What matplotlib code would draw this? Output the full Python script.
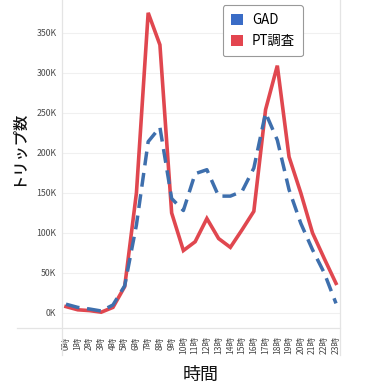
import matplotlib
matplotlib.use("Agg")
import matplotlib.pyplot as plt
from matplotlib.patches import Patch
from matplotlib.lines import Line2D
from matplotlib.ticker import FuncFormatter

plt.rcParams['font.family'] = ['Noto Sans CJK JP', 'DejaVu Sans']

hours = list(range(24))
hour_labels = [f"{h}時" for h in hours]
gad = [11000, 7000, 5000, 2500, 10000, 34000, 110000, 214000, 232000, 143000,
       128000, 174000, 179000, 146000, 146000, 152000, 181000, 250000, 216000,
       154000, 112000, 79000, 50000, 12000]
pt = [8000, 4000, 3000, 1000, 7000, 33000, 150000, 375000, 335000, 125000,
      78000, 89000, 118000, 93000, 82000, 104000, 127000, 254000, 309000,
      195000, 150000, 100000, 68000, 37000]
yticks = [0, 50000, 100000, 150000, 200000, 250000, 300000, 350000]

blue = '#3e6fad'
red = '#e0474f'
frame = '#e4e4e4'
tickc = '#4a4a4a'

fig = plt.figure(figsize=(3.84, 3.84), dpi=100, facecolor='white')
ax = fig.add_axes([62 / 384, 1 - 328 / 384, (340 - 62) / 384, 328 / 384])

ax.plot(hours, pt, color=red, lw=2.6, solid_joinstyle='miter', zorder=3)
ax.plot(hours, gad, color=blue, lw=2.5, dashes=(4, 2.2), zorder=4)

ax.set_xlim(-0.34, 23.34)
ax.set_ylim(-18750, 391000)
ax.set_yticks(yticks)
ax.yaxis.set_major_formatter(FuncFormatter(lambda v, p: f"{int(v / 1000)}K"))
ax.set_xticks(hours)
ax.set_xticklabels(hour_labels, rotation=90, fontsize=6.2, color=tickc)
ax.tick_params(axis='y', labelsize=6.3, colors=tickc, length=0, pad=4)
ax.tick_params(axis='x', length=0, pad=6)
ax.grid(axis='y', color='#f0f0f0', lw=0.8)
for s in ax.spines.values():
    s.set_visible(False)

# frame lines running past the axes, as in the reference
fig.add_artist(Line2D([62 / 384, 62 / 384], [1, 1 - 355 / 384], color=frame, lw=0.9))
fig.add_artist(Line2D([340 / 384, 340 / 384], [1, 1 - 355 / 384], color=frame, lw=0.9))
fig.add_artist(Line2D([17 / 384, 340 / 384], [1 - 328 / 384] * 2, color=frame, lw=0.9))

ax.set_ylabel('トリップ数', fontsize=11, color='#111111', fontweight='medium')
ax.yaxis.set_label_coords(-0.13, 0.55)
ax.set_xlabel('時間', fontsize=13, color='#111111', labelpad=8)

handles = [Patch(facecolor='#3a6cc6', edgecolor='none'),
           Patch(facecolor='#e3454f', edgecolor='none')]
leg = fig.legend(handles, ['GAD', 'PT調査'], loc='upper right',
                 bbox_to_anchor=(303 / 384, 1 - 5 / 384), fontsize=9.6,
                 handlelength=0.9, handleheight=0.9, handletextpad=0.7,
                 borderpad=0.6, labelspacing=0.55, borderaxespad=0,
                 fancybox=True, framealpha=1, edgecolor='#999999')
leg.get_frame().set_linewidth(0.8)

fig.savefig('out.png', dpi=100, facecolor='white')
